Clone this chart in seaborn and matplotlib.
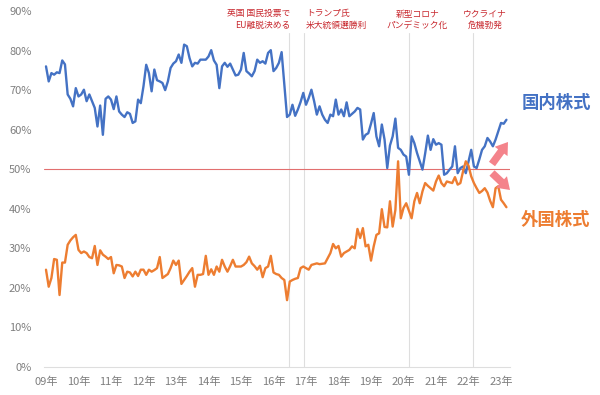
import numpy as np
import pandas as pd
import matplotlib
matplotlib.use("Agg")
import matplotlib.pyplot as plt
import seaborn as sns

# ---- data (monthly, Jan 2009 - Mar 2023, %) ----
domestic = [76.0, 72.2, 74.3, 73.9, 74.5, 74.3, 77.5, 76.5, 68.9, 67.8,
            65.9, 70.5, 68.4, 68.9, 70.1, 67.2, 68.9, 67.2, 65.5, 60.8,
            66.1, 58.7, 67.8, 68.4, 67.6, 65.2, 68.4, 64.6, 63.8, 63.2,
            64.4, 64.0, 61.7, 62.1, 67.6, 66.7, 71.0, 76.4, 74.3, 69.7,
            75.2, 72.5, 72.2, 71.8, 70.0, 72.2, 75.6, 76.7, 77.3, 79.0,
            76.9, 81.5, 81.1, 78.1, 76.0, 76.9, 76.7, 77.7, 77.7, 77.7,
            78.5, 80.1, 77.5, 76.4, 70.5, 76.0, 76.9, 75.9, 76.7, 75.2,
            73.7, 73.9, 75.2, 79.4, 74.8, 74.2, 73.5, 74.8, 77.7, 76.9,
            77.3, 76.7, 79.4, 80.1, 74.8, 75.6, 76.9, 79.6, 71.5, 63.2,
            63.8, 66.3, 63.5, 65.1, 67.0, 69.3, 66.3, 68.0, 70.1, 67.2,
            63.8, 65.9, 63.8, 62.5, 61.7, 63.8, 63.4, 67.6, 63.8, 65.1,
            63.4, 66.9, 63.4, 64.0, 64.6, 65.5, 65.1, 57.5, 58.7, 59.1,
            61.5, 64.2, 58.3, 55.8, 61.3, 57.5, 50.3, 56.0, 58.3, 62.8,
            55.4, 54.9, 53.7, 53.2, 48.6, 58.3, 56.6, 54.1, 52.0, 49.9,
            54.0, 58.5, 54.9, 57.6, 56.2, 56.6, 56.2, 48.6, 49.0, 49.9,
            50.7, 55.8, 49.0, 50.3, 50.7, 49.0, 52.0, 54.9, 50.7, 50.3,
            52.5, 54.9, 55.8, 57.9, 57.0, 55.8, 57.5, 59.6, 61.7, 61.5,
            62.5]
foreign = [24.6, 20.3, 22.5, 27.3, 27.1, 18.2, 26.4, 26.4, 30.9, 32.0,
           32.8, 33.4, 29.6, 28.8, 29.2, 28.8, 27.8, 27.5, 30.6, 25.8,
           29.5, 28.4, 27.9, 27.3, 27.8, 23.7, 25.8, 25.7, 25.4, 22.5,
           24.1, 23.9, 22.9, 24.1, 23.0, 24.6, 24.6, 23.3, 24.6, 24.1,
           24.5, 25.0, 27.8, 22.5, 23.0, 23.5, 25.0, 26.9, 25.8, 26.9,
           21.0, 22.0, 23.0, 24.1, 25.0, 20.3, 23.3, 23.3, 23.5, 28.1,
           23.3, 24.7, 23.3, 25.4, 24.1, 27.1, 25.4, 24.1, 25.5, 27.1,
           25.4, 25.4, 25.4, 25.8, 26.5, 27.9, 26.2, 25.5, 24.6, 25.6,
           22.7, 25.0, 25.4, 28.1, 23.9, 23.5, 23.3, 22.5, 22.0, 16.9,
           21.6, 22.0, 22.3, 22.5, 25.0, 25.4, 25.0, 24.6,
           25.8, 26.0, 26.2, 26.0, 26.1, 26.2, 27.5, 28.8, 31.1, 30.0,
           30.6, 27.9, 28.8, 29.2, 29.6, 30.5, 30.0, 34.9, 32.6, 35.1,
           30.5, 30.9, 26.9, 30.5, 33.4, 33.8, 39.9, 35.4, 35.3, 41.9,
           35.5, 39.7, 52.0, 37.6, 40.2, 41.4, 39.5, 37.6, 41.9, 44.0,
           41.4, 44.4, 46.5, 45.8, 45.2, 44.6, 46.9, 48.4, 46.5, 45.7,
           46.9, 46.7, 46.5, 48.0, 46.1, 46.5, 49.5, 52.0, 50.9, 48.2,
           46.5, 45.2, 44.0, 44.5, 45.2, 44.1, 42.0, 40.4, 45.2, 45.7,
           42.3, 41.4, 40.4]
series_names = ["国内株式", "外国株式"]
start_year = 2009
year_ticks = list(range(2009, 2024))
year_labels = [f"{y % 100:02d}年" for y in year_ticks]
y_ticks = list(range(0, 100, 10))
y_labels = [f"{v}%" for v in y_ticks]
event_dates = [2016.48, 2016.94, 2020.17, 2022.14]
event_labels = [["英国 国民投票で", "EU離脱決める"],
                ["トランプ氏", "米大統領選勝利"],
                ["新型コロナ", "パンデミック化"],
                ["ウクライナ", "危機勃発"]]
reference_level = 50

# ---- style ----
sns.set_style("white")
plt.rcParams["font.family"] = ["Noto Sans CJK JP", "DejaVu Sans"]

BLUE = "#4472C4"
ORANGE = "#ED7D31"
RED_TXT = "#C8282E"
GRID = "#dedede"
TICK = "#7f7f7f"
ARROW = "#F4838B"

t = start_year + np.arange(len(domestic)) / 12.0
df = pd.DataFrame({
    "t": np.concatenate([t, t]),
    "v": domestic + foreign,
    "series": [series_names[0]] * len(domestic) + [series_names[1]] * len(foreign),
})

W, H = 600, 395
fig = plt.figure(figsize=(W / 100, H / 100), dpi=100)
ax_l, ax_r, ax_t, ax_b = 44, 510, 11, 367
ax = fig.add_axes([ax_l / W, 1 - ax_b / H, (ax_r - ax_l) / W, (ax_b - ax_t) / H])

px_per_year = 32.5
x0 = 2009 - (46 - ax_l) / px_per_year
x1 = 2009 + (ax_r - 46) / px_per_year

# event lines
for d in event_dates:
    ax.axvline(d, ymin=0, ymax=(ax_b - 33) / (ax_b - ax_t), color=GRID, lw=0.8, zorder=1)
ax.axhline(reference_level, color="#E26F6F", lw=0.8, zorder=1)

sns.lineplot(data=df, x="t", y="v", hue="series",
             palette={series_names[0]: BLUE, series_names[1]: ORANGE},
             linewidth=1.7, legend=False, ax=ax, zorder=3)

ax.set_xlim(x0, x1)
ax.set_ylim(0, 90)
ax.set_xticks(year_ticks)
ax.set_xticklabels(year_labels)
ax.set_yticks(y_ticks)
ax.set_yticklabels(y_labels)
ax.set_xlabel("")
ax.set_ylabel("")
ax.tick_params(axis="y", length=0, pad=9, labelsize=8, labelcolor=TICK)
ax.tick_params(axis="x", length=3, direction="out", color=GRID, pad=4,
               labelsize=8, labelcolor=TICK)
for s in ["top", "right", "left"]:
    ax.spines[s].set_visible(False)
ax.spines["bottom"].set_color(GRID)
ax.spines["bottom"].set_linewidth(0.8)
ax.grid(False)

# event annotations (in axis data coordinates)
def ypx(p):
    return (ax_b - p) / (ax_b - ax_t) * 90

txt_kw = dict(color=RED_TXT, fontsize=6.3, va="center", zorder=5)
ax.text(event_dates[0] + 0.03, ypx(14), event_labels[0][0], ha="right", **txt_kw)
ax.text(event_dates[0] + 0.03, ypx(25), event_labels[0][1], ha="right", **txt_kw)
ax.text(event_dates[1] + 0.06, ypx(14), event_labels[1][0], ha="left", **txt_kw)
ax.text(event_dates[1] + 0.06, ypx(25), event_labels[1][1], ha="left", **txt_kw)
ax.text(event_dates[2] + 0.25, ypx(14), event_labels[2][0], ha="center", **txt_kw)
ax.text(event_dates[2] + 0.25, ypx(25), event_labels[2][1], ha="center", **txt_kw)
ax.text(event_dates[3] + 0.37, ypx(14), event_labels[3][0], ha="center", **txt_kw)
ax.text(event_dates[3] + 0.37, ypx(25), event_labels[3][1], ha="center", **txt_kw)

# series labels at right
fig.text(556 / W, 1 - 103 / H, series_names[0], color=BLUE, fontsize=12.5,
         fontweight="bold", ha="center", va="center")
fig.text(556 / W, 1 - 220 / H, series_names[1], color=ORANGE, fontsize=12.5,
         fontweight="bold", ha="center", va="center")

# arrows
style = "simple,head_length=0.7,head_width=0.95,tail_width=0.45"
ax.annotate("", xy=(508, H - 142), xytext=(492, H - 164), xycoords="figure pixels",
            textcoords="figure pixels",
            arrowprops=dict(arrowstyle=style, color=ARROW, mutation_scale=12,
                            shrinkA=0, shrinkB=0, lw=0))
ax.annotate("", xy=(510, H - 190), xytext=(492, H - 173), xycoords="figure pixels",
            textcoords="figure pixels",
            arrowprops=dict(arrowstyle=style, color=ARROW, mutation_scale=12,
                            shrinkA=0, shrinkB=0, lw=0))

fig.savefig("out.png", dpi=100)
